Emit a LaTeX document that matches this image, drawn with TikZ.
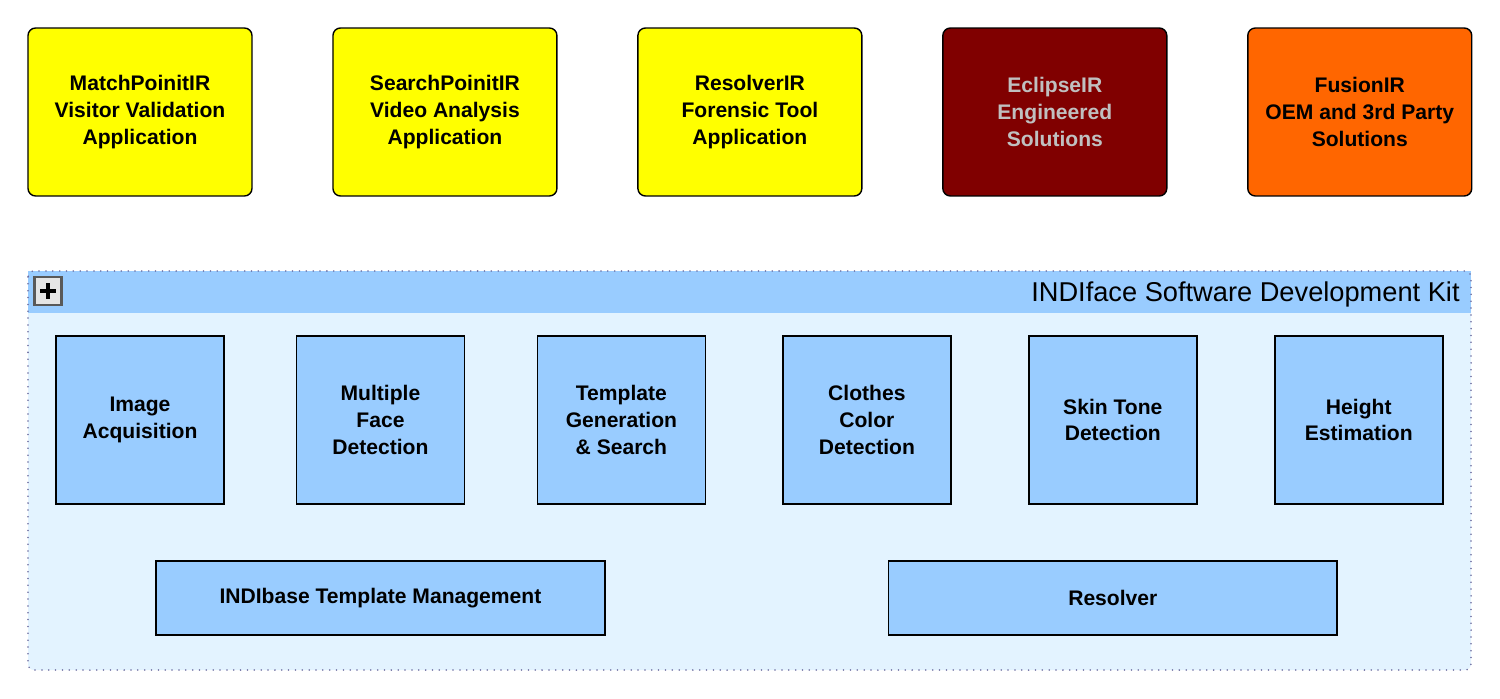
\documentclass[tikz,border=0pt]{standalone}
\usepackage{fontspec}
\setmainfont{Liberation Sans}
\usetikzlibrary{positioning}

\definecolor{appyellow}{HTML}{FFFF00}
\definecolor{eclipsered}{HTML}{800000}
\definecolor{eclipsetext}{HTML}{C0C0C0}
\definecolor{fusionorange}{HTML}{FF6600}
\definecolor{sdkblue}{HTML}{99CCFF}
\definecolor{sdkpale}{HTML}{E3F3FF}
\definecolor{sdkdots}{HTML}{6E6EA0}

\tikzset{
  topbox/.style={draw=black, line width=0.8pt, rounded corners=0.15cm,
    minimum width=4.48cm, minimum height=3.36cm, align=center,
    font=\fontsize{12}{15.3}\selectfont\bfseries},
  modbox/.style={draw=black, line width=0.9pt, fill=sdkblue,
    minimum width=3.36cm, minimum height=3.36cm, align=center,
    font=\fontsize{12}{15.3}\selectfont\bfseries},
  basebox/.style={modbox, minimum width=8.98cm, minimum height=1.48cm}
}

\begin{document}
\begin{tikzpicture}[x=0.02cm,y=-0.02cm,on grid]
  \useasboundingbox (0,0) rectangle (1500,699);

  % applications
  \node[topbox, fill=appyellow] (match) at (140,112) {MatchPoinitIR\\Visitor Validation\\Application};
  \node[topbox, fill=appyellow, right=6.1cm of match]   (search)   {SearchPoinitIR\\Video Analysis\\Application};
  \node[topbox, fill=appyellow, right=6.1cm of search]  (resolvir) {ResolverIR\\Forensic Tool\\Application};
  \node[topbox, fill=eclipsered, text=eclipsetext, right=6.1cm of resolvir] (eclipse) {EclipseIR\\Engineered\\Solutions};
  \node[topbox, fill=fusionorange, right=6.1cm of eclipse] (fusion) {FusionIR\\OEM and 3rd Party\\Solutions};

  % sdk frame
  \fill[sdkpale, rounded corners=0.12cm] (28,271) rectangle (1471,670);
  \fill[sdkblue] (28,271) rectangle (1471,313);
  \draw[sdkdots, line width=1pt, line cap=round, dash pattern=on 0pt off 3.9pt, rounded corners=0.12cm] (28,271) rectangle (1471,670);
  \node[anchor=east, font=\fontsize{15.5}{18}\selectfont, inner sep=0pt] (sdktitle) at (1460,294) {INDIface Software Development Kit};
  \node[draw=black!65, line width=1.2pt, fill=black!10, minimum width=0.54cm, minimum height=0.56cm, inner sep=0pt] (expand) at (48,291) {};
  \draw[line width=2.6pt] ([xshift=-0.16cm]expand.center) -- ([xshift=0.16cm]expand.center);
  \draw[line width=2.6pt] ([yshift=-0.16cm]expand.center) -- ([yshift=0.16cm]expand.center);

  % modules
  \node[modbox] (acq) at (140,420) {Image\\Acquisition};
  \node[modbox, right=4.81cm of acq]  (face)   {Multiple\\Face\\Detection};
  \node[modbox, right=4.82cm of face] (tmpl)   {Template\\Generation\\\& Search};
  \node[modbox, right=4.91cm of tmpl] (cloth)  {Clothes\\Color\\Detection};
  \node[modbox, right=4.92cm of cloth] (skin)  {Skin Tone\\Detection};
  \node[modbox, right=4.92cm of skin] (height) {Height\\Estimation};

  \node[basebox, below=3.56cm of face] (indibase) {INDIbase Template Management};
  \node[basebox, below=3.56cm of skin] (resolver) {Resolver};
\end{tikzpicture}
\end{document}
